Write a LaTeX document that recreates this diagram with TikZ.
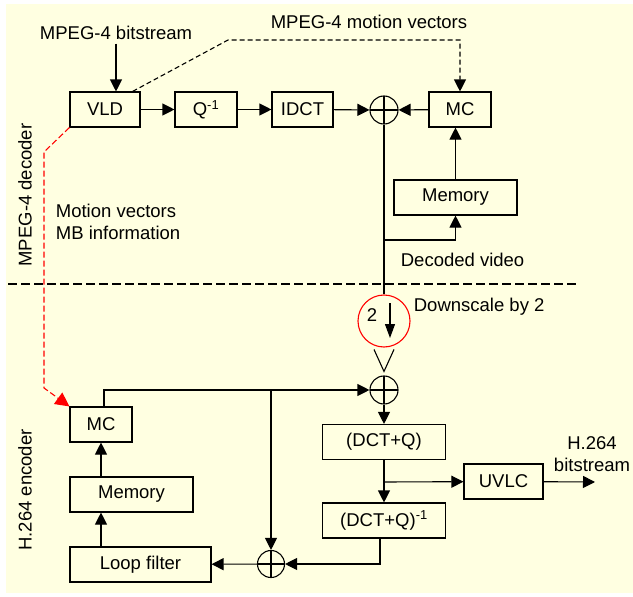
\documentclass[tikz,border=0pt]{standalone}
\usepackage{fontspec}
\setmainfont{Liberation Sans}
\usepackage{tikz}
\usetikzlibrary{arrows.meta,positioning,calc}
\definecolor{paper}{RGB}{255,255,225}
\definecolor{mvred}{RGB}{255,0,0}

\begin{document}
\begin{tikzpicture}[x=1pt,y=-1pt,line width=1.1pt,font=\fontsize{18.5}{22}\selectfont]
\tikzset{blk/.style={draw,minimum height=35pt,inner sep=0pt},
  adder/.style={draw,circle,minimum size=28pt,inner sep=0pt,path picture={\draw (path picture bounding box.north)--(path picture bounding box.south) (path picture bounding box.west)--(path picture bounding box.east);}},
  arr/.style={-{Triangle[length=12pt,width=12pt]}},
  dsh/.style={dash pattern=on 5pt off 3pt}}
\useasboundingbox (0,0) rectangle (633,597);
\fill[paper] (6,4) rectangle (633,593);
% MPEG-4 decoder
\node[blk,minimum width=70pt] (vld) at (105,109.5) {VLD};
\node[blk,minimum width=62pt] (qinv) at (206,109.5) {Q\textsuperscript{-1}};
\node[blk,minimum width=61pt] (idct) at (302.5,109.5) {IDCT};
\node[adder] (add1) at (384,110) {};
\node[blk,minimum width=62pt] (mc1) at (460,109.5) {MC};
\node[blk,minimum width=123pt] (mem1) at (455.5,197.5) {Memory};
\node (bs) at (116,33) {MPEG-4 bitstream};
\node (mvtxt) at (369,22) {MPEG-4 motion vectors};
\node[anchor=west] (dectxt) at (397,260) {Decoded video};
\node[anchor=west,align=left] (mbtxt) at (52,222) {Motion vectors\\MB information};
\node[rotate=90] (dec) at (25,195) {MPEG-4 decoder};
\coordinate (tap1) at (384,240);
\coordinate (knee) at (228,40);
\draw[arr] (bs) -- (bs |- vld.north);
\foreach \a/\b in {vld/qinv,qinv/idct,idct/add1,mc1/add1} \draw[arr] (\a)--(\b);
\draw[arr] (mem1.north) -- (mem1.north |- mc1.south);
\draw[arr] (tap1) -| (mem1.south);
\draw[arr,dsh] ([xshift=-8pt]vld.north east) -- (knee) -| (mc1.north);
% separator
\draw[dash pattern=on 9pt off 4pt] (8,284) -- (578,284);
% H.264 encoder
\node[draw=mvred,circle,minimum size=52pt,inner sep=0pt] (ds) at (384,321) {};
\node (two) at (372,315) {2};
\node[anchor=west] (dstxt) at (410,307) {Downscale by 2};
\node[adder] (add2) at (384,390) {};
\node[blk,minimum width=123pt] (dctq) at (384,442) {(DCT+Q)};
\node[blk,minimum width=123pt] (idctq) at (384,520.5) {(DCT+Q)\textsuperscript{-1}};
\node[blk,minimum width=79pt] (uvlc) at (503.5,481.5) {UVLC};
\node[align=center] (outtxt) at (592,454) {H.264\\bitstream};
\node[adder,minimum size=27pt] (add3) at (271,564) {};
\node[blk,minimum width=141pt] (lf) at (140.5,564.5) {Loop filter};
\node[blk,minimum width=123pt] (mem2) at (131.5,494.5) {Memory};
\node[blk,minimum width=62pt] (mc2) at (101,424.5) {MC};
\node[rotate=90] (enc) at (25,490) {H.264 encoder};
\coordinate (tap2) at (271,389);
\coordinate (tap3) at (384,482);
\coordinate (out) at (595,482);
\draw (add1) -- (ds);
\draw[-{Triangle[length=14pt,width=10pt]}] ([shift={(6,-18)}]ds.center) -- ([shift={(6,17)}]ds.center);
\draw ([shift={(-10,-26)}]add2.north) -- ([shift={(0,-4)}]add2.north) -- ([shift={(10,-26)}]add2.north);
\foreach \a/\b in {add2/dctq,dctq/idctq,add3/lf,tap2/add3,uvlc/out} \draw[arr] (\a)--(\b);
\draw[arr] (tap3) -- (uvlc);
\draw[arr] ([xshift=3pt]mc2.north) |- (add2);
\draw[arr] ([xshift=-4pt]idctq.south) |- (add3);
\draw[arr] (lf.north -| mc2) -- (mem2.south -| mc2);
\draw[arr] (mem2.north -| mc2) -- (mc2);
\draw[mvred,-{Triangle[length=14pt,width=14pt]},dash pattern=on 6pt off 3pt] (vld.south west) -- (44,152) -- (44,388) -- (mc2.north west);
\end{tikzpicture}
\end{document}
